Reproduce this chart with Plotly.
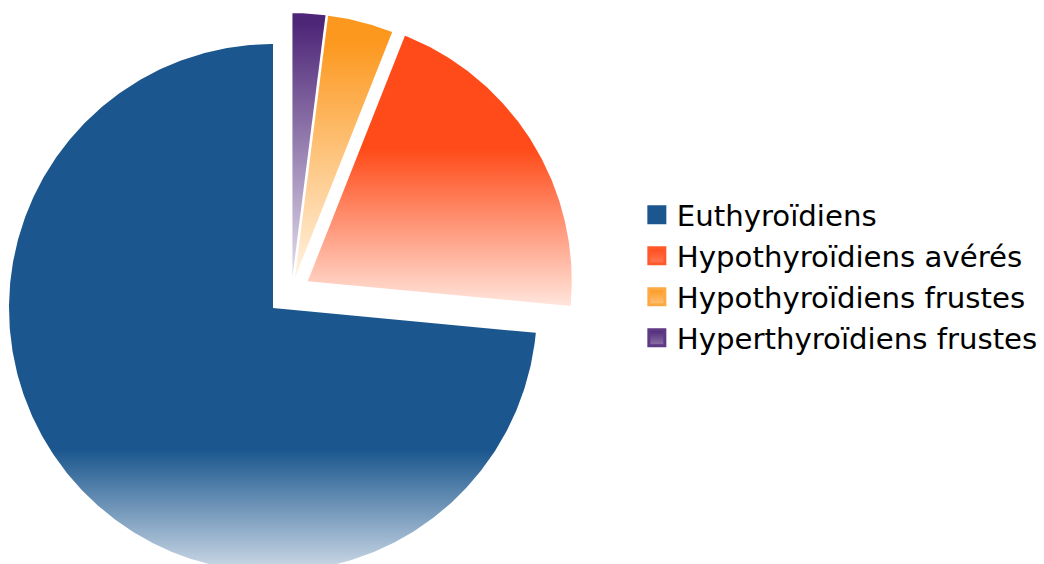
import numpy as np
import plotly.graph_objects as go

# ---- data ----
labels = ["Euthyroïdiens", "Hypothyroïdiens avérés",
          "Hypothyroïdiens frustes", "Hyperthyroïdiens frustes"]
values = [73.5, 20.5, 4.0, 2.0]

# ---- styles ----
colors = ["#1B578E", "#FF4B19", "#FC981E", "#4E2678"]
fade_colors = ["#CFDBE8", "#FFE5DC", "#FFF3E3", "#E3DEEC"]
solid_fraction = [0.77, 0.42, 0.10, 0.04]   # top part of each slice kept solid
legend_fade = ["#1B578E", "#FF7A55", "#FFC27A", "#8E74A8"]
legend_line = ["#1B578E", "#FF5A2E", "#FDAA45", "#5E3A85"]

start_angle = 90.0          # first slice starts at 12 o'clock, counterclockwise
group_pull = 0.095          # whole group of small slices pulled out
pulls = [0.0, 0.072, 0.053, 0.053]

fig = go.Figure()

total = float(sum(values))
angles = []
a = start_angle
for v in values:
    b = a + 360.0 * v / total
    angles.append((a, b))
    a = b

g0 = angles[1][0]
g1 = angles[-1][1]
gmid = np.radians((g0 + g1) / 2.0)

for i, (lab, v) in enumerate(zip(labels, values)):
    a0, a1 = angles[i]
    mid = np.radians((a0 + a1) / 2.0)
    if i == 0:
        ox, oy = 0.0, 0.0
    else:
        ox = group_pull * np.cos(gmid) + pulls[i] * np.cos(mid)
        oy = group_pull * np.sin(gmid) + pulls[i] * np.sin(mid)
    n = max(int(abs(a1 - a0) * 2), 8)
    th = np.radians(np.linspace(a0, a1, n))
    xs = np.concatenate([[ox], ox + np.cos(th), [ox]])
    ys = np.concatenate([[oy], oy + np.sin(th), [oy]])
    sf = solid_fraction[i]
    fig.add_trace(go.Scatter(
        x=xs, y=ys, mode="lines", fill="toself",
        line=dict(width=0, color="rgba(0,0,0,0)"),
        fillgradient=dict(type="vertical",
                          colorscale=[[0, fade_colors[i]], [1 - sf, colors[i]], [1, colors[i]]]),
        showlegend=False, hoverinfo="skip"))

for i, lab in enumerate(labels):
    fig.add_trace(go.Scatter(
        x=[None], y=[None], mode="markers", name=lab, legendgroup=str(i),
        marker=dict(symbol="square", size=16, color=colors[i],
                    gradient=dict(type="vertical", color=legend_fade[i]),
                    line=dict(width=3, color=legend_line[i]))))

W, H = 1044, 564
cx, cy, R = 273.0, 308.0, 264.0
fig.update_layout(
    width=W, height=H,
    margin=dict(l=0, r=0, t=0, b=0),
    paper_bgcolor="white", plot_bgcolor="white",
    xaxis=dict(range=[-cx / R, (W - cx) / R], visible=False, fixedrange=True),
    yaxis=dict(range=[-(H - cy) / R, cy / R], visible=False, fixedrange=True),
    showlegend=True,
    legend=dict(x=0.610, xanchor="left", y=0.51, yanchor="middle",
                font=dict(family="DejaVu Sans", size=29.2, color="#000000"),
                tracegroupgap=0, itemsizing="trace", bgcolor="rgba(0,0,0,0)"),
)

fig.write_html("out.html", config={"displayModeBar": False},
               post_script="document.body.style.margin='0';")
